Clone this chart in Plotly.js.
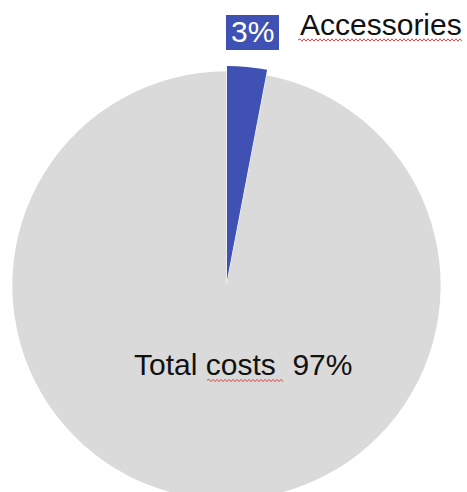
<!DOCTYPE html>
<html>
<head>
<meta charset="utf-8">
<script src="https://cdn.plot.ly/plotly-3.0.1.min.js"></script>
<style>
html,body{margin:0;padding:0;overflow:hidden;background:#fff;}
#chart{width:467px;height:510px;}
</style>
</head>
<body>
<div id="chart"></div>
<script>
// Data
var labels = ["Accessories", "Total costs"];
var values = [3, 97];
var sliceColors = ["#3f51b3", "#dadada"];
var pulls = [0.025, 0];

// Layout geometry (pixels)
var W = 467, H = 510;
var M = {l: 7, r: 21, t: 66, b: 5};
var PW = W - M.l - M.r, PH = H - M.t - M.b;
function px(x) { return (x - M.l) / PW; }
function py(y) { return 1 - (y - M.t) / PH; }

function wavy(x0, x1, y, amp, period) {
  var d = "M" + px(x0) + "," + py(y);
  var up = true;
  for (var x = x0 + period / 2; x <= x1; x += period / 2) {
    d += " L" + px(x) + "," + py(y + (up ? -amp : amp));
    up = !up;
  }
  return d;
}

var font = "'Liberation Sans', Arial, sans-serif";

var data = [{
  type: "pie",
  labels: labels,
  values: values,
  sort: false,
  direction: "clockwise",
  rotation: 0,
  pull: pulls,
  marker: {colors: sliceColors, line: {width: 0}},
  textinfo: "none",
  hoverinfo: "none",
  showlegend: false
}];

var layout = {
  width: W, height: H,
  margin: M,
  paper_bgcolor: "#ffffff",
  plot_bgcolor: "#ffffff",
  showlegend: false,
  font: {family: font, color: "#111111"},
  shapes: [
    {type: "rect", xref: "paper", yref: "paper",
     x0: px(226), x1: px(279), y0: py(50), y1: py(15),
     fillcolor: "#3f51b3", line: {width: 0}},
    {type: "path", xref: "paper", yref: "paper",
     path: wavy(298, 462, 40, 1.2, 4), line: {color: "#e04848", width: 1}},
    {type: "path", xref: "paper", yref: "paper",
     path: wavy(207, 283, 380.5, 1.2, 4), line: {color: "#e04848", width: 1}}
  ],
  annotations: [
    {text: "3%", xref: "paper", yref: "paper", x: px(252.5), y: py(31.5),
     xanchor: "center", yanchor: "middle", showarrow: false,
     font: {family: font, size: 30, color: "#ffffff"}},
    {text: "Accessories", xref: "paper", yref: "paper", x: px(381), y: py(24.5),
     xanchor: "center", yanchor: "middle", showarrow: false,
     font: {family: font, size: 30, color: "#111111"}},
    {text: "Total costs\u00a0\u00a097%", xref: "paper", yref: "paper", x: px(243.5), y: py(364),
     xanchor: "center", yanchor: "middle", showarrow: false,
     font: {family: font, size: 30, color: "#111111"}}
  ]
};

Plotly.newPlot("chart", data, layout, {staticPlot: true, displayModeBar: false});
</script>
</body>
</html>
